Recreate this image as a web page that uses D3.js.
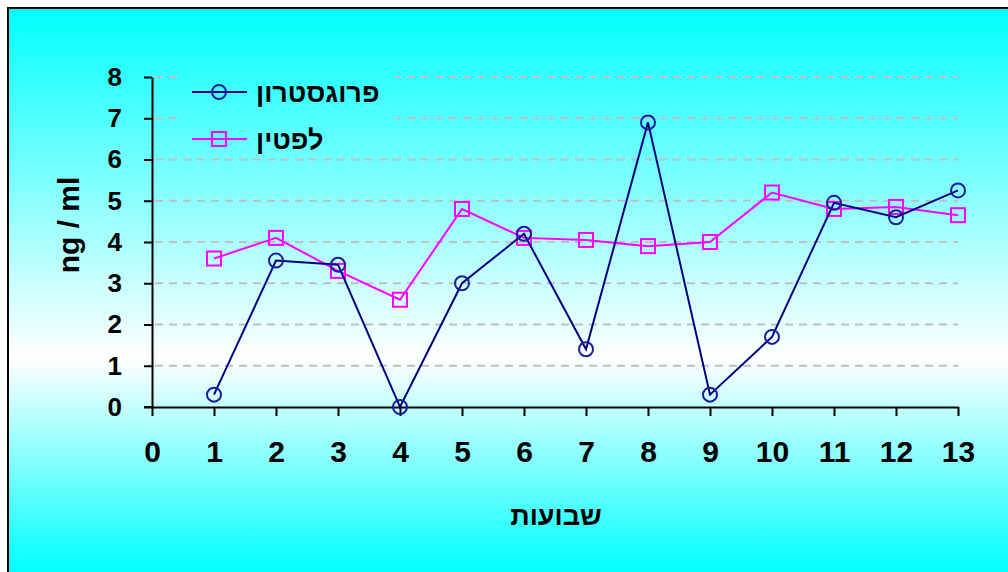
<!DOCTYPE html>
<html>
<head>
<meta charset="utf-8">
<script src="https://cdn.jsdelivr.net/npm/d3@7"></script>
<style>
  html, body { margin: 0; padding: 0; background: #ffffff; }
  svg { display: block; }
  text { font-family: "Liberation Sans", Arial, sans-serif; font-weight: bold; fill: #000; }
</style>
</head>
<body>
<script>
// Weekly hormone levels (ng/ml)
const weeks = [1, 2, 3, 4, 5, 6, 7, 8, 9, 10, 11, 12, 13];
const progesterone = [0.3, 3.55, 3.45, 0.0, 3.0, 4.2, 1.4, 6.9, 0.3, 1.7, 4.95, 4.6, 5.25];
const leptin = [3.6, 4.1, 3.3, 2.6, 4.8, 4.1, 4.05, 3.9, 4.0, 5.2, 4.8, 4.85, 4.65];
const xTicks = [0, 1, 2, 3, 4, 5, 6, 7, 8, 9, 10, 11, 12, 13];
const yTicks = [0, 1, 2, 3, 4, 5, 6, 7, 8];
const seriesNames = ["פרוגסטרון", "לפטין"];
const xTitle = "שבועות";
const yTitle = "ng / ml";

const W = 1008, H = 572;
const svg = d3.select("body").append("svg").attr("width", W).attr("height", H);

// Background panel with a cyan-white-cyan vertical gradient
const defs = svg.append("defs");
const grad = defs.append("linearGradient")
  .attr("id", "bg").attr("gradientUnits", "userSpaceOnUse")
  .attr("x1", 0).attr("y1", 8).attr("x2", 0).attr("y2", 572);
grad.append("stop").attr("offset", 0).attr("stop-color", "#00ffff");
grad.append("stop").attr("offset", 0.62).attr("stop-color", "#ffffff");
grad.append("stop").attr("offset", 1).attr("stop-color", "#00ffff");

svg.append("rect").attr("x", 8).attr("y", 8).attr("width", 1010).attr("height", 580)
  .attr("fill", "url(#bg)").attr("stroke", "#000").attr("stroke-width", 2);

const x = d3.scaleLinear().domain([0, 13]).range([152, 958]);
const y = d3.scaleLinear().domain([0, 8]).range([407, 77]);

// Dashed horizontal gridlines
svg.append("g").selectAll("line").data(yTicks.filter(d => d > 0)).join("line")
  .attr("x1", x(0) + 3).attr("x2", x(13))
  .attr("y1", d => y(d)).attr("y2", d => y(d))
  .attr("stroke", "#c0c0c0").attr("stroke-width", 2)
  .attr("stroke-dasharray", "8,6");

// Legend panel covers the gridlines behind it
svg.append("rect").attr("x", 178).attr("y", 68).attr("width", 217).attr("height", 84)
  .attr("fill", "url(#bg)");

// Axes
const yAxis = d3.axisLeft(y).tickValues(yTicks).tickSize(8).tickSizeOuter(0).tickPadding(22)
  .tickFormat(d3.format("d"));
const xAxis = d3.axisBottom(x).tickValues(xTicks).tickSize(9).tickSizeOuter(0).tickPadding(25)
  .tickFormat(d3.format("d"));

const gy = svg.append("g").attr("transform", `translate(${x(0)},0)`).call(yAxis);
const gx = svg.append("g").attr("transform", `translate(0,${y(0)})`).call(xAxis);
[gy, gx].forEach(g => {
  g.select(".domain").attr("stroke", "#000").attr("stroke-width", 2);
  g.selectAll(".tick line").attr("stroke", "#000").attr("stroke-width", 2);
  g.selectAll(".tick text").attr("fill", "#000")
    .style("font-family", "'Liberation Sans', Arial, sans-serif")
    .style("font-weight", "bold");
});
gy.selectAll(".tick text").style("font-size", "26px");
gx.selectAll(".tick text").style("font-size", "30px");
// extend x baseline left under the y tick marks
svg.append("line").attr("x1", x(0) - 8).attr("x2", x(0)).attr("y1", y(0)).attr("y2", y(0))
  .attr("stroke", "#000").attr("stroke-width", 2);

// Axis titles
svg.append("text").attr("transform", `translate(68,225) rotate(-90)`)
  .attr("text-anchor", "middle").attr("dominant-baseline", "central")
  .style("font-size", "30px").text(yTitle);
svg.append("text").attr("x", 556).attr("y", 525)
  .attr("text-anchor", "middle").style("font-size", "27px").text(xTitle);

// Series lines and markers
const line = d3.line().x((d, i) => x(weeks[i])).y(d => y(d));
const blue = "#000080", blueMark = "#1c1c9c", pink = "#ff00ff";

svg.append("path").datum(leptin).attr("d", line)
  .attr("fill", "none").attr("stroke", pink).attr("stroke-width", 2);
svg.append("g").selectAll("rect").data(leptin).join("rect")
  .attr("x", (d, i) => x(weeks[i]) - 7).attr("y", d => y(d) - 7)
  .attr("width", 14).attr("height", 14)
  .attr("fill", "none").attr("stroke", pink).attr("stroke-width", 2);

svg.append("path").datum(progesterone).attr("d", line)
  .attr("fill", "none").attr("stroke", blue).attr("stroke-width", 2);
svg.append("g").selectAll("circle").data(progesterone).join("circle")
  .attr("cx", (d, i) => x(weeks[i])).attr("cy", d => y(d)).attr("r", 7)
  .attr("fill", "none").attr("stroke", blueMark).attr("stroke-width", 2);

// Legend
const legend = svg.append("g");
const legY = [92, 139];
const legColors = [blue, pink];
legY.forEach((ly, i) => {
  legend.append("line").attr("x1", 192).attr("x2", 247).attr("y1", ly).attr("y2", ly)
    .attr("stroke", legColors[i]).attr("stroke-width", 2);
  if (i === 0) {
    legend.append("circle").attr("cx", 219).attr("cy", ly).attr("r", 7)
      .attr("fill", "none").attr("stroke", blueMark).attr("stroke-width", 2);
  } else {
    legend.append("rect").attr("x", 212).attr("y", ly - 7).attr("width", 14).attr("height", 14)
      .attr("fill", "none").attr("stroke", pink).attr("stroke-width", 2);
  }
  legend.append("text").attr("x", 256).attr("y", ly + 10)
    .attr("text-anchor", "start").style("font-size", "27px").text(seriesNames[i]);
});
</script>
</body>
</html>
